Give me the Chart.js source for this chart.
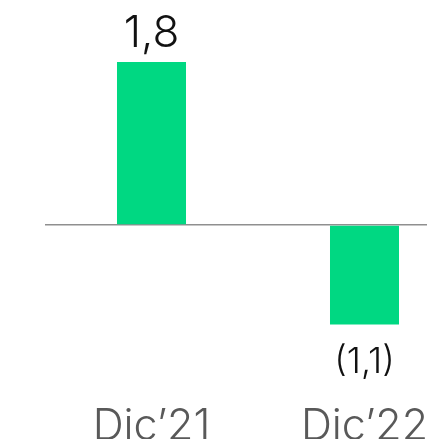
<!DOCTYPE html>
<html>
<head>
<meta charset="utf-8">
<script src="https://cdn.jsdelivr.net/npm/chart.js@4"></script>
<style>
  html, body { margin: 0; padding: 0; background: #fff; overflow: hidden; }
  #wrap { width: 471px; height: 459px; position: relative; }
</style>
</head>
<body>
<div id="wrap"><canvas id="chart"></canvas></div>
<script>
const categories = ['Dic\u201921', 'Dic\u201922'];
const values = [1.8, -1.1];
const barColor = '#00d882';

function formatValue(v) {
    const s = Math.abs(v).toFixed(1).replace('.', ',');
    return v < 0 ? `(${s})` : s;
}

// draws the number above (or below, for negatives) each bar
const valueLabels = {
    id: 'valueLabels',
    afterDatasetsDraw(chart) {
        const ctx = chart.ctx;
        const meta = chart.getDatasetMeta(0);
        ctx.save();
        ctx.textAlign = 'center';
        ctx.textBaseline = 'alphabetic';
        ctx.fillStyle = '#111';
        meta.data.forEach((bar, i) => {
            const v = values[i];
            if (v >= 0) {
                ctx.font = '300 44px Inter';
                ctx.fillText(formatValue(v), bar.x, bar.y - 15);
            } else {
                ctx.font = '300 36px Inter';
                ctx.fillText(formatValue(v), bar.x, bar.y + 48);
            }
        });
        ctx.restore();
    }
};

new Chart(document.getElementById('chart'), {
    type: 'bar',
    data: {
        labels: categories,
        datasets: [{
            data: values, backgroundColor: barColor, borderWidth: 0,
            categoryPercentage: 1, barPercentage: 0.324
        }]
    },
    options: {
        responsive: true,
        maintainAspectRatio: false,
        animation: false,
        layout: { padding: { left: 45, top: 0, right: 0, bottom: 0 } },
        plugins: { legend: { display: false }, tooltip: { enabled: false } },
        scales: {
            x: {
                grid: { display: false, drawTicks: false },
                border: { display: false },
                ticks: { color: '#595959', font: { family: 'Inter', size: 43, weight: 300 }, padding: 6 }
            },
            y: {
                min: -1.882,
                max: 2.4845,
                grid: {
                    drawTicks: false,
                    color: c => c.tick.value === 0 ? '#8f8f8f' : 'rgba(0,0,0,0)',
                    lineWidth: 1.5
                },
                border: { display: false },
                ticks: { display: false, stepSize: 0.5 }
            }
        }
    },
    plugins: [valueLabels]
});
</script>
</body>
</html>
